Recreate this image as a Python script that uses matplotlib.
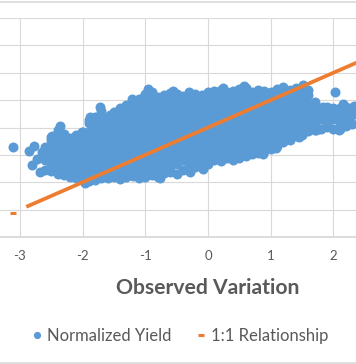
import matplotlib.pyplot as plt
from matplotlib.lines import Line2D

plt.rcParams['font.family'] = ['Lato', 'DejaVu Sans']

# x tick labels as shown on the category axis
x_ticks = [-3, -2, -1, 0, 1, 2]
x_labels = ['-3', '-2', '-1', '0', '1', '2']
y_grid = [-4, -3, -2, -1, 0, 1, 2, 3, 4]

# Normalized Yield: isolated / edge points
sparse_x = [-3.11, -2.86, -2.78, -2.80, -2.68, -2.72, -2.65, 2.03,
            -2.49, -2.36, -2.01, -1.88, -1.72, -1.56, -1.21, -0.96, -0.56,
            0.24, 0.57, 1.20, 1.52, 1.83, 2.15, 2.33,
            -1.96, -0.77, -0.29, -0.08, 0.88, 1.08, 1.45, 1.72, 2.09]
sparse_y = [-0.70, -0.85, -0.66, -1.38, -1.62, -1.15, -0.90, 1.28,
            -0.30, 0.06, -0.16, 0.40, 0.76, 0.44, 1.04, 1.40, 1.35,
            1.46, 1.50, 1.48, 1.54, 0.76, 0.86, 0.80,
            -2.02, -1.86, -1.64, -1.50, -0.95, -0.74, -0.36, -0.10, -0.08]

# Normalized Yield: the dense cloud, column by column (x, y values)
cloud_left = [
    (-2.6, [-1.54, -1.2, -0.9, -0.71]),
    (-2.5, [-1.59, -1.35, -1.05, -0.75, -0.45, -0.36]),
    (-2.4, [-1.69, -1.5, -1.2, -0.9, -0.6, -0.3, -0.10]),
    (-2.3, [-1.74, -1.65, -1.35, -1.05, -0.75, -0.45, -0.22]),
    (-2.2, [-1.79, -1.5, -1.2, -0.9, -0.6, -0.40]),
    (-2.1, [-1.84, -1.65, -1.35, -1.05, -0.75, -0.45, -0.26]),
    (-2.0, [-1.90, -1.8, -1.5, -1.2, -0.9, -0.6, -0.3, -0.16]),
    (-1.9, [-1.96, -1.65, -1.35, -1.05, -0.75, -0.45, -0.15, 0.15, 0.28]),
    (-1.8, [-1.92, -1.8, -1.5, -1.2, -0.9, -0.6, -0.3, 0, 0.3, 0.40]),
    (-1.7, [-1.86, -1.65, -1.35, -1.05, -0.75, -0.45, -0.15, 0.15, 0.45, 0.62]),
    (-1.6, [-1.84, -1.5, -1.2, -0.9, -0.6, -0.3, 0, 0.3, 0.40]),
    (-1.5, [-1.80, -1.65, -1.35, -1.05, -0.75, -0.45, -0.15, 0.15, 0.45, 0.58]),
    (-1.4, [-1.89, -1.8, -1.5, -1.2, -0.9, -0.6, -0.3, 0, 0.3, 0.6, 0.70]),
    (-1.3, [-1.82, -1.65, -1.35, -1.05, -0.75, -0.45, -0.15, 0.15, 0.45, 0.75, 0.84]),
    (-1.2, [-1.76, -1.5, -1.2, -0.9, -0.6, -0.3, 0, 0.3, 0.6, 0.9, 0.95]),
    (-1.1, [-1.84, -1.65, -1.35, -1.05, -0.75, -0.45, -0.15, 0.15, 0.45, 0.75, 1.04]),
]
cloud_mid = [
    (-1.0, [-1.79, -1.5, -1.2, -0.9, -0.6, -0.3, 0, 0.3, 0.6, 0.9, 1.2, 1.22]),
    (-0.9, [-1.72, -1.65, -1.35, -1.05, -0.75, -0.45, -0.15, 0.15, 0.45, 0.75, 1.05, 1.30]),
    (-0.8, [-1.79, -1.5, -1.2, -0.9, -0.6, -0.3, 0, 0.3, 0.6, 0.9, 1.10]),
    (-0.7, [-1.66, -1.35, -1.05, -0.75, -0.45, -0.15, 0.15, 0.45, 0.75, 1.05, 1.19]),
    (-0.6, [-1.62, -1.5, -1.2, -0.9, -0.6, -0.3, 0, 0.3, 0.6, 0.9, 1.2, 1.26]),
    (-0.5, [-1.70, -1.35, -1.05, -0.75, -0.45, -0.15, 0.15, 0.45, 0.75, 1.05, 1.22]),
    (-0.4, [-1.54, -1.2, -0.9, -0.6, -0.3, 0, 0.3, 0.6, 0.9, 1.15]),
    (-0.3, [-1.56, -1.35, -1.05, -0.75, -0.45, -0.15, 0.15, 0.45, 0.75, 1.05, 1.29]),
    (-0.2, [-1.44, -1.2, -0.9, -0.6, -0.3, 0, 0.3, 0.6, 0.9, 1.2, 1.24]),
    (-0.1, [-1.46, -1.35, -1.05, -0.75, -0.45, -0.15, 0.15, 0.45, 0.75, 1.05, 1.20]),
    (0.0, [-1.34, -1.2, -0.9, -0.6, -0.3, 0, 0.3, 0.6, 0.9, 1.2, 1.29]),
    (0.1, [-1.19, -1.05, -0.75, -0.45, -0.15, 0.15, 0.45, 0.75, 1.05, 1.34]),
    (0.2, [-1.22, -0.9, -0.6, -0.3, 0, 0.3, 0.6, 0.9, 1.2, 1.36]),
    (0.3, [-1.12, -1.05, -0.75, -0.45, -0.15, 0.15, 0.45, 0.75, 1.05, 1.30]),
    (0.4, [-1.19, -0.9, -0.6, -0.3, 0, 0.3, 0.6, 0.9, 1.2, 1.34]),
    (0.5, [-1.10, -1.05, -0.75, -0.45, -0.15, 0.15, 0.45, 0.75, 1.05, 1.35, 1.40]),
    (0.6, [-1.04, -0.9, -0.6, -0.3, 0, 0.3, 0.6, 0.9, 1.2, 1.44]),
    (0.7, [-0.96, -0.75, -0.45, -0.15, 0.15, 0.45, 0.75, 1.05, 1.30]),
]
cloud_right = [
    (0.8, [-0.94, -0.6, -0.3, 0, 0.3, 0.6, 0.9, 1.2, 1.36]),
    (0.9, [-0.86, -0.75, -0.45, -0.15, 0.15, 0.45, 0.75, 1.05, 1.34]),
    (1.0, [-0.79, -0.6, -0.3, 0, 0.3, 0.6, 0.9, 1.2, 1.30]),
    (1.1, [-0.66, -0.45, -0.15, 0.15, 0.45, 0.75, 1.05, 1.35, 1.39]),
    (1.2, [-0.54, -0.3, 0, 0.3, 0.6, 0.9, 1.2, 1.42]),
    (1.3, [-0.44, -0.15, 0.15, 0.45, 0.75, 1.05, 1.36]),
    (1.4, [-0.32, 0, 0.3, 0.6, 0.9, 1.2, 1.44]),
    (1.5, [-0.29, -0.15, 0.15, 0.45, 0.75, 1.05, 1.35, 1.45]),
    (1.6, [-0.14, 0, 0.3, 0.6, 0.9, 1.2, 1.36]),
    (1.7, [-0.09, 0.15, 0.45, 0.75, 0.94]),
    (1.8, [-0.04, 0.3, 0.6, 0.70]),
    (1.9, [0.01, 0.15, 0.45, 0.74]),
    (2.0, [-0.04, 0.3, 0.6, 0.72]),
    (2.1, [-0.04, 0.15, 0.45, 0.70]),
    (2.2, [0.06, 0.3, 0.6, 0.74]),
    (2.3, [0.11, 0.45, 0.70]),
    (2.4, [0.16, 0.45, 0.74]),
]

# 1:1 Relationship (y = x)
rel_isolated = [-3.11]
rel_line = [-2.87, 2.50]

blue = '#5B9BD5'
orange = '#ED7D31'
grey_text = '#595959'
grid_col = '#D9D9D9'

norm_x = list(sparse_x)
norm_y = list(sparse_y)
for x, ys in cloud_left + cloud_mid + cloud_right:
    norm_x += [x] * len(ys)
    norm_y += ys

fig = plt.figure(figsize=(3.56, 3.64), dpi=100)
ax = fig.add_axes([0, 0.3489, 1, 0.6016])

ax.plot(norm_x, norm_y, 'o', color=blue, ms=7.2, mew=0, zorder=2)
ax.plot(rel_line, rel_line, '-', color=orange, lw=2.7, zorder=3)
ax.plot(rel_isolated, rel_isolated, '_', color=orange, ms=4.5, mew=2.2, zorder=3)

ax.set_xlim(-3.317, 2.360)
ax.set_ylim(-4, 4)
ax.set_xticks(x_ticks)
ax.set_xticklabels(x_labels)
ax.set_yticks(y_grid)
ax.tick_params(axis='x', length=0, pad=9, labelsize=9.5, labelcolor=grey_text)
ax.tick_params(axis='y', length=0, labelleft=False)
ax.grid(True, color=grid_col, lw=0.8)
ax.set_axisbelow(True)
for side in ['left', 'right', 'top']:
    ax.spines[side].set_visible(False)
ax.spines['bottom'].set_color(grid_col)
ax.spines['bottom'].set_linewidth(1.3)

fig.text(208 / 356, 1 - 288 / 364, 'Observed Variation', ha='center', va='center',
         fontsize=15.2, fontweight='bold', color=grey_text)

handles = [
    Line2D([], [], marker='o', ls='none', color=blue, ms=5.2, mew=0),
    Line2D([], [], marker='_', ls='none', color=orange, ms=4, mew=2.2),
]
fig.legend(handles, ['Normalized Yield', '1:1 Relationship'], loc='center',
           bbox_to_anchor=(180 / 356, 1 - 336 / 364), ncol=2, frameon=False,
           fontsize=12, labelcolor=grey_text, handlelength=0.6,
           handletextpad=0.3, columnspacing=1.5)

# thin chart border lines at the top and bottom edges of the crop
fig.add_artist(Line2D([0, 1], [1 - 1.5 / 364, 1 - 1.5 / 364], color=grid_col, lw=1.2))
fig.add_artist(Line2D([0, 1], [1.5 / 364, 1.5 / 364], color=grid_col, lw=1.2))

fig.savefig('out.png', dpi=100)
